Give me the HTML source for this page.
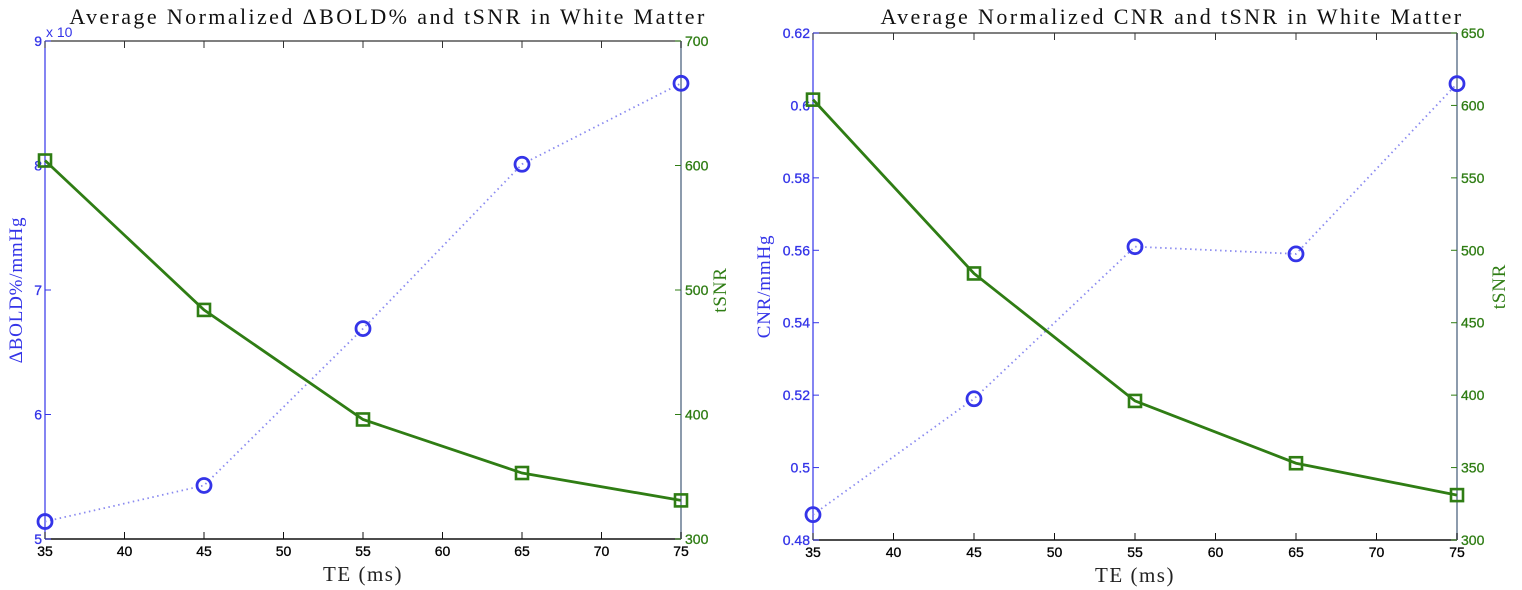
<!DOCTYPE html>
<html><head><meta charset="utf-8"><style>
html,body{margin:0;padding:0;background:#fff;width:1522px;height:590px;overflow:hidden}
svg{display:block}
.t{font-family:"Liberation Sans",sans-serif;font-size:14px;stroke-width:0.3}
.s{font-family:"Liberation Serif",serif}
</style></head><body>
<svg id="svg" width="1522" height="590" xmlns="http://www.w3.org/2000/svg"></svg>
<script>
const teValues = [35, 45, 55, 65, 75];
const xTicks = [35, 40, 45, 50, 55, 60, 65, 70, 75];
const boldValues = [5.14, 5.43, 6.69, 8.01, 8.66];
const cnrValues = [0.487, 0.519, 0.561, 0.559, 0.606];
const tsnrValues = [604, 484, 396, 353, 331];
const leftBoldTicks = [5, 6, 7, 8, 9];
const leftTsnrTicks = [300, 400, 500, 600, 700];
const rightCnrTicks = [0.48, 0.5, 0.52, 0.54, 0.56, 0.58, 0.6, 0.62];
const rightCnrLabels = ['0.48','0.5','0.52','0.54','0.56','0.58','0.6','0.62'];
const rightTsnrTicks = [300, 350, 400, 450, 500, 550, 600, 650];

const NS = 'http://www.w3.org/2000/svg';
const svg = document.getElementById('svg');
const BLUE = '#3434e8', GREEN = '#2f7d14', SPINE = '#8090a4';
function mk(tag, attrs, parent, text) {
  const e = document.createElementNS(NS, tag);
  for (const k in attrs) e.setAttribute(k, attrs[k]);
  if (text !== undefined) e.textContent = text;
  (parent || svg).appendChild(e);
  return e;
}
function lin(d0, d1, r0, r1) { return v => r0 + (v - d0) / (d1 - d0) * (r1 - r0); }

function chart(cfg) {
  const g = mk('g', {});
  
  
  const {x0, x1, y0, y1} = cfg;
  const xs = lin(35, 75, x0, x1);
  const yl = lin(cfg.lmin, cfg.lmax, y1, y0);
  const yr = lin(cfg.rmin, cfg.rmax, y1, y0);
  const top = mk('line', {x1: x0, y1: y0, x2: x1, y2: y0, stroke: '#333', 'stroke-width': 1.2}, g);
   
  const bot = mk('line', {x1: x0, y1: y1, x2: x1, y2: y1, stroke: '#111', 'stroke-width': 1.4}, g);
   
  const la = mk('line', {x1: x0, y1: y0, x2: x0, y2: y1, stroke: BLUE, 'stroke-width': 1.2}, g);
   
  const ra = mk('line', {x1: x1, y1: y0, x2: x1, y2: y1, stroke: SPINE, 'stroke-width': 1.8}, g);
   
  xTicks.forEach(v => {
    const x = xs(v);
    mk('line', {x1: x, y1: y1, x2: x, y2: y1 - 7, stroke: '#111'}, g);
    mk('line', {x1: x, y1: y0, x2: x, y2: y0 + 7, stroke: '#333'}, g);
    const t = mk('text', {x: x, y: y1 + 17, 'text-anchor': 'middle', class: 't', fill: '#000', stroke: '#000'}, g, String(v));
     
  });
  cfg.lticks.forEach((v, i) => {
    const y = yl(v);
    mk('line', {x1: x0, y1: y, x2: x0 + 6, y2: y, stroke: BLUE}, g);
    const t = mk('text', {x: x0 - 3, y: y + 5, 'text-anchor': 'end', class: 't', fill: BLUE, stroke: BLUE}, g, cfg.llabels ? cfg.llabels[i] : String(v));
     
  });
  cfg.rticks.forEach(v => {
    const y = yr(v);
    mk('line', {x1: x1, y1: y, x2: x1 - 6, y2: y, stroke: GREEN}, g);
    const t = mk('text', {x: x1 + 4, y: y + 5, class: 't', fill: GREEN, stroke: GREEN}, g, String(v));
     
  });
  const ti = mk('text', {x: cfg.tx, y: 24, 'text-anchor': 'middle', class: 's', 'font-size': 22, fill: '#111', 'letter-spacing': '2.4'}, g, cfg.title);
   
  const xl = mk('text', {x: (x0 + x1) / 2, y: y1 + 42, 'text-anchor': 'middle', class: 's', 'font-size': 21, fill: '#222', 'letter-spacing': '1.5'}, g, 'TE (ms)');
   
  const lt = mk('text', {transform: `translate(${cfg.llx},${(y0 + y1) / 2}) rotate(-90)`, 'text-anchor': 'middle', class: 's', 'font-size': 19, fill: BLUE, 'letter-spacing': '0.8'}, g, cfg.ltitle);
   
  const rt = mk('text', {transform: `translate(${cfg.rlx},${(y0 + y1) / 2}) rotate(-90)`, 'text-anchor': 'middle', class: 's', 'font-size': 19, fill: GREEN, 'letter-spacing': '0.8'}, g, 'tSNR');
   
  const bp = teValues.map((v, i) => xs(v) + ',' + yl(cfg.lvals[i])).join(' ');
  const bl = mk('polyline', {points: bp, fill: 'none', stroke: '#8a8af0', 'stroke-width': 1.8, 'stroke-dasharray': '1.5 3.5'}, g);
   
  const gp = teValues.map((v, i) => xs(v) + ',' + yr(tsnrValues[i])).join(' ');
  const gl = mk('polyline', {points: gp, fill: 'none', stroke: GREEN, 'stroke-width': 2.8}, g);
   
  teValues.forEach((v, i) => {
    const c = mk('circle', {cx: xs(v), cy: yl(cfg.lvals[i]), r: 7, fill: 'none', stroke: BLUE, 'stroke-width': 2.8}, g);
     
    const s = mk('rect', {x: xs(v) - 6, y: yr(tsnrValues[i]) - 6, width: 12, height: 12, fill: 'none', stroke: GREEN, 'stroke-width': 2.6}, g);
     
  });
  return g;
}
chart({name: 'bold-chart', x0: 45, x1: 681, y0: 41, y1: 539, lmin: 5, lmax: 9, rmin: 300, rmax: 700,
  lticks: leftBoldTicks, rticks: leftTsnrTicks, lvals: boldValues, tx: 388,
  title: 'Average Normalized \u0394BOLD% and tSNR in White Matter', ltitle: '\u0394BOLD%/mmHg', llx: 22, rlx: 726});
const ex = mk('text', {x: 46, y: 37, class: 't', 'font-size': 11, fill: BLUE}, svg, 'x 10');
 
chart({name: 'cnr-chart', x0: 813, x1: 1457, y0: 33, y1: 540, lmin: 0.48, lmax: 0.62, rmin: 300, rmax: 650,
  lticks: rightCnrTicks, llabels: rightCnrLabels, rticks: rightTsnrTicks, lvals: cnrValues, tx: 1172,
  title: 'Average Normalized CNR and tSNR in White Matter', ltitle: 'CNR/mmHg', llx: 770, rlx: 1505});
</script>
</body></html>
